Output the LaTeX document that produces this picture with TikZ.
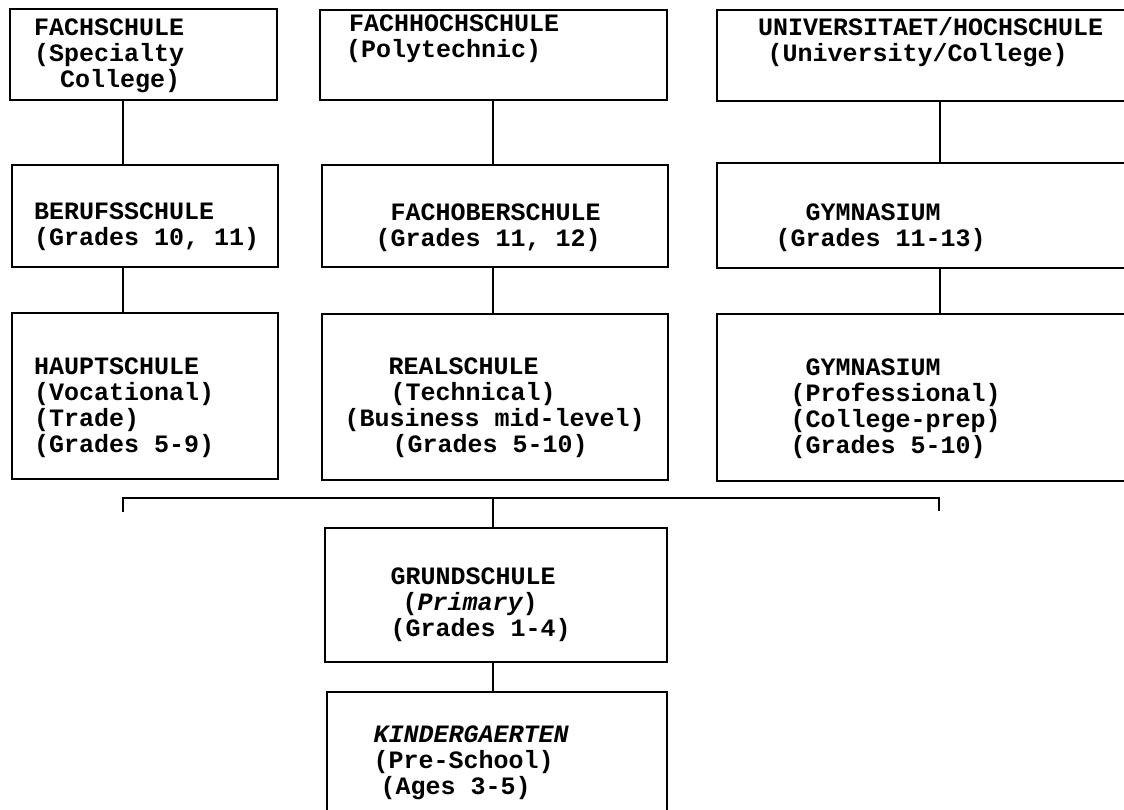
\documentclass[tikz,border=0pt]{standalone}
\usepackage{fontspec}
\newfontfamily\tw{Liberation Mono}
\usetikzlibrary{fit}
% offset a line of typewriter text by #1 pt from the node's left edge
\newcommand\ind[2]{\hspace*{#1pt}#2}
\tikzset{
  box/.style={draw, line width=1.6pt, inner sep=0pt, outer sep=0pt},
  label/.style={anchor=base west, inner sep=0pt, outer sep=0pt, align=left,
    font=\tw\bfseries\fontsize{25}{26}\selectfont},
  link/.style={line width=1.3pt}
}
\begin{document}
\begin{tikzpicture}[x=1pt,y=-1pt]
\useasboundingbox[fill=white] (0,0) rectangle (1124,809);

% school boxes
\node[box, fit={(10,9) (277,100)}]    (b1)  {};
\node[box, fit={(320,10) (667,100)}]  (b2)  {};
\node[box, fit={(717,10) (1130,101)}] (b3)  {};
\node[box, fit={(12,165) (278,267)}]  (b4)  {};
\node[box, fit={(322,165) (668,267)}] (b5)  {};
\node[box, fit={(717,163) (1130,268)}] (b6) {};
\node[box, fit={(12,313) (278,479)}]  (b7)  {};
\node[box, fit={(322,314) (668,480)}] (b8)  {};
\node[box, fit={(717,314) (1130,481)}] (b9) {};
\node[box, fit={(325,528) (667,662)}] (b10) {};
\node[box, fit={(327,692) (667,840)}] (b11) {};

% box texts (each node is placed at the baseline of its last line)
\node[label] (t1) at (34,87) {\ind{0}{FACHSCHULE}\\\ind{0}{(Specialty}\\\ind{26}{College)}};
\node[label] (t2) at (346,57) {\ind{3}{FACHHOCHSCHULE}\\\ind{0}{(Polytechnic)}};
\node[label] (t3) at (758,61) {\ind{0}{UNIVERSITAET/HOCHSCHULE}\\\ind{9.5}{(University/College)}};
\node[label] (t4) at (34,245) {\ind{0}{BERUFSSCHULE}\\\ind{0}{(Grades 10, 11)}};
\node[label] (t5) at (375.6,246) {\ind{15}{FACHOBERSCHULE}\\\ind{0}{(Grades 11, 12)}};
\node[label] (t6) at (775.6,246) {\ind{30}{GYMNASIUM}\\\ind{0}{(Grades 11-13)}};
\node[label] (t7) at (34,452) {\ind{0}{HAUPTSCHULE}\\\ind{0}{(Vocational)}\\\ind{0}{(Trade)}\\\ind{0}{(Grades 5-9)}};
\node[label] (t8) at (344.6,452) {\ind{44}{REALSCHULE}\\\ind{46}{(Technical)}\\\ind{0}{(Business mid-level)}\\\ind{48}{(Grades 5-10)}};
\node[label] (t9) at (790.6,453) {\ind{15}{GYMNASIUM}\\\ind{0}{(Professional)}\\\ind{0}{(College-prep)}\\\ind{0}{(Grades 5-10)}};
\node[label] (t10) at (390.6,636) {\ind{0}{GRUNDSCHULE}\\\ind{12}{(\itshape Primary\upshape)}\\\ind{0}{(Grades 1-4)}};
\node[label] (t11) at (373.6,794) {\ind{0}{\itshape KINDERGAERTEN}\\\ind{0}{(Pre-School)}\\\ind{7}{(Ages 3-5)}};

% columns of the vertical links
\coordinate (colA) at (123,0);
\coordinate (colB) at (493,0);
\coordinate (colC) at (940,0);

\draw[link] (b1.south -| colA) -- (b4.north -| colA);
\draw[link] (b4.south -| colA) -- (b7.north -| colA);
\draw[link] (b2.south -| colB) -- (b5.north -| colB);
\draw[link] (b5.south -| colB) -- (b8.north -| colB);
\draw[link] (b3.south -| colC) -- (b6.north -| colC);
\draw[link] (b6.south -| colC) -- (b9.north -| colC);

% common bus joining the three lower schools to the primary school
\coordinate (busL) at (123,498);
\coordinate (busR) at (939,498);
\draw[link] ([yshift=-14pt]busL) -- (busL) -- (busR) -- ([yshift=-13pt]busR);
\draw[link] (busL -| colB) -- (b10.north -| colB);
\draw[link] (b10.south -| colB) -- (b11.north -| colB);
\end{tikzpicture}
\end{document}
